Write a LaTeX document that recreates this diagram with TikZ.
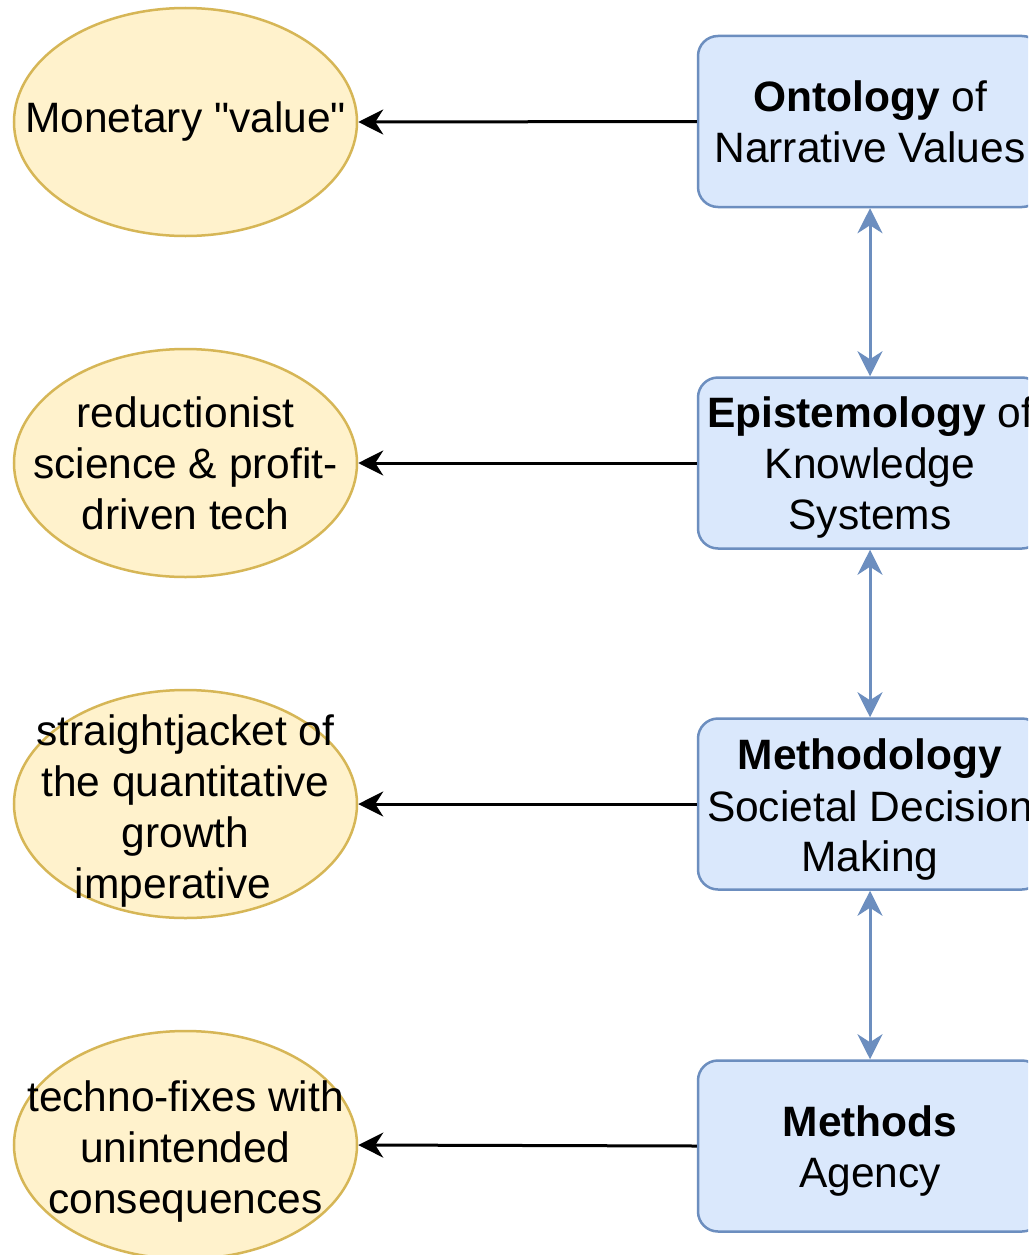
\documentclass[tikz,border=0pt]{standalone}
\usepackage{fontspec}
\setmainfont{Liberation Sans}[Ligatures=TeXOff]
\usetikzlibrary{arrows.meta,shapes.geometric}
\definecolor{yfill}{HTML}{FFF2CC}
\definecolor{ystroke}{HTML}{D6B656}
\definecolor{bfill}{HTML}{DAE8FC}
\definecolor{bstroke}{HTML}{6C8EBF}
\tikzset{
  oval/.style={ellipse, draw=ystroke, fill=yfill, line width=2.5pt, minimum width=343pt, minimum height=228pt, inner sep=0pt},
  ovaltext/.style={inner sep=0pt, align=center, font=\fontsize{42.5}{51}\selectfont},
  levelbox/.style={rectangle, rounded corners=20pt, draw=bstroke, fill=bfill, line width=2.5pt, minimum width=344pt, minimum height=171pt, inner sep=0pt},
  boxtext/.style={inner sep=0pt, align=center, font=\fontsize{42.5}{51}\selectfont},
  maparrow/.style={draw=black, line width=3pt, -{Stealth[length=25pt,width=25pt,inset=8pt]}},
  linkarrow/.style={draw=bstroke, line width=3pt, {Stealth[length=25pt,width=25pt,inset=8pt]}-{Stealth[length=25pt,width=25pt,inset=8pt]}}
}
\begin{document}
\begin{tikzpicture}[x=1pt,y=-1pt]
\useasboundingbox (0,0) rectangle (1028,1255);
\clip (0,0) rectangle (1028,1255);
\fill[white] (0,0) rectangle (1028,1255);
\node[oval] (e1) at (185.5,122) {};
\node[oval] (e2) at (185.5,463) {};
\node[oval] (e3) at (185.5,804) {};
\node[oval] (e4) at (185.5,1145) {};
\node[ovaltext] (t1) at (185.5,122) {Monetary "value"};
\node[ovaltext] (t2) at (185.5,463) {reductionist\\science \& profit-\\driven tech};
\node[ovaltext] (t3) at (185.5,811) {straightjacket of\\the quantitative\\growth\\imperative\hspace*{25pt}};
\node[ovaltext] (t4) at (185.5,1151) {techno-fixes with\\unintended\\consequences};
\node[levelbox] (b1) at (870,121.5) {};
\node[levelbox] (b2) at (870,463) {};
\node[levelbox] (b3) at (870,804) {};
\node[levelbox] (b4) at (870,1146) {};
\node[boxtext] (s1) at (870,121.5) {\textbf{Ontology} of\\Narrative Values};
\node[boxtext] (s2) at (870,468) {\textbf{Epistemology} of\\Knowledge\\Systems};
\node[boxtext] (s3) at (870,810) {\textbf{Methodology}\\Societal Decision\\Making};
\node[boxtext] (s4) at (870,1151) {\textbf{Methods}\\Agency};
\draw[maparrow] (b1.west) -- (e1.east);
\draw[maparrow] (b2.west) -- (e2.east);
\draw[maparrow] (b3.west) -- (e3.east);
\draw[maparrow] (b4.west) -- (e4.east);
\draw[linkarrow] (b1.south) -- (b2.north);
\draw[linkarrow] (b2.south) -- (b3.north);
\draw[linkarrow] (b3.south) -- (b4.north);
\end{tikzpicture}
\end{document}
